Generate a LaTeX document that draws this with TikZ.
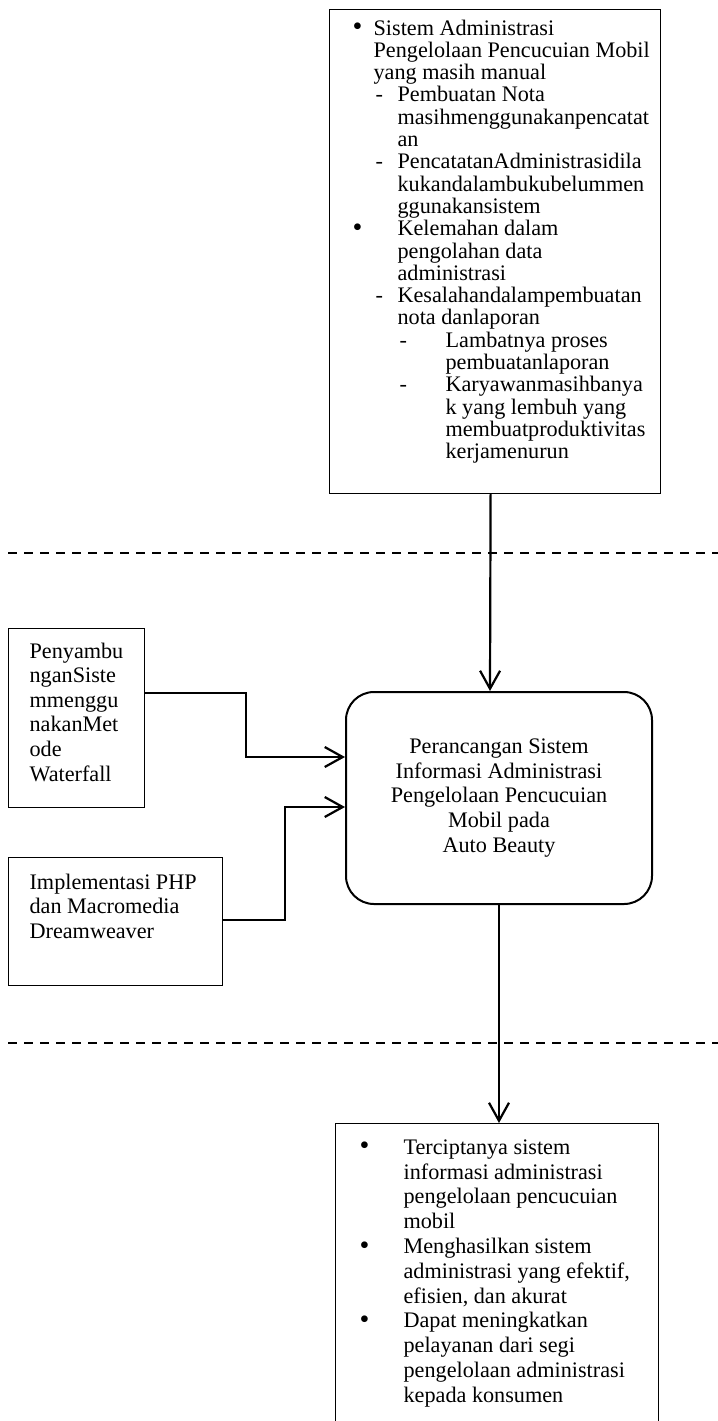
\documentclass[tikz,border=0pt]{standalone}
\usepackage{fontspec}
\setmainfont{Liberation Serif}
\usetikzlibrary{arrows.meta,positioning}

% one text line, indented
\newcommand{\pline}[2]{\hspace*{#1}#2\par}
% one text line with a marker (bullet or dash) in front
\newcommand{\mline}[4]{\hspace*{#1}\makebox[#2][l]{#3}#4\par}
\newcommand{\boxfont}[1]{\fontsize{11.1pt}{#1}\selectfont}
\newcommand{\bul}{{\fontsize{14pt}{14pt}\selectfont\raisebox{-0.3pt}{\textbullet}}}

\tikzset{
    plainbox/.style={draw, line width=0.6pt, inner sep=0pt, anchor=north west},
    roundbox/.style={draw, line width=1pt, rounded corners=14pt,
        minimum width=153pt, minimum height=106pt, align=center,
        font=\boxfont{12.3pt}},
    arr/.style={line width=1.1pt, -{Straight Barb[length=9pt,width=10pt,line width=1.1pt]}},
    divider/.style={line width=0.75pt, dash pattern=on 4.5pt off 3.5pt}
}

\begin{document}
\begin{tikzpicture}[x=0.5pt, y=-0.5pt]
\useasboundingbox (0,0) rectangle (718,1421);
\clip (0,0) rectangle (718,1421);

% === TOP: problems ===
\node[plainbox] (problem) at (329,9) {\parbox[t][242pt][t]{165.5pt}{\boxfont{11.15pt}\vspace*{5pt}%
    \mline{11.5pt}{10.5pt}{\bul}{Sistem Administrasi}
    \pline{22pt}{Pengelolaan Pencucuian Mobil}
    \pline{22pt}{yang masih manual}
    \mline{23pt}{11pt}{-}{Pembuatan Nota}
    \pline{34pt}{masihmenggunakanpencatat}
    \pline{34pt}{an}
    \mline{23pt}{11pt}{-}{PencatatanAdministrasidila}
    \pline{34pt}{kukandalambukubelummen}
    \pline{34pt}{ggunakansistem}
    \mline{11.5pt}{22.5pt}{\bul}{Kelemahan dalam}
    \pline{34pt}{pengolahan data}
    \pline{34pt}{administrasi}
    \mline{23pt}{11pt}{-}{Kesalahandalampembuatan}
    \pline{34pt}{nota danlaporan}
    \mline{35pt}{23pt}{-}{Lambatnya proses}
    \pline{58pt}{pembuatanlaporan}
    \mline{35pt}{23pt}{-}{Karyawanmasihbanya}
    \pline{58pt}{k yang lembuh yang}
    \pline{58pt}{membuatproduktivitas}
    \pline{58pt}{kerjamenurun}}};

\draw[divider] (8,553) -- (718,553);

% === MIDDLE: approach ===
\node[plainbox] (waterfall) at (8,628) {\parbox[t][89.5pt][t]{68pt}{\boxfont{12.3pt}\vspace*{7pt}%
    \pline{10.5pt}{Penyambu}
    \pline{10.5pt}{nganSiste}
    \pline{10.5pt}{mmenggu}
    \pline{10.5pt}{nakanMet}
    \pline{10.5pt}{ode}
    \pline{10.5pt}{Waterfall}}};

\node[plainbox] (tools) at (8,857) {\parbox[t][64pt][t]{107pt}{\boxfont{12.3pt}\vspace*{8pt}%
    \pline{10.5pt}{Implementasi PHP}
    \pline{10.5pt}{dan Macromedia}
    \pline{10.5pt}{Dreamweaver}}};

\node[roundbox] (plan) at (499,798) {Perancangan Sistem\\Informasi Administrasi\\Pengelolaan Pencucuian\\Mobil pada\\Auto Beauty};

\draw[arr] ([xshift=-2.25pt]problem.south) -- ([xshift=-4.5pt]plan.north);
\draw[arr] ([yshift=12.75pt]waterfall.east) -- ++(101,0) |- ([yshift=20.5pt]plan.west);
\draw[arr] ([yshift=1pt]tools.east) -- ++(62,0) |- ([yshift=-4.5pt]plan.west);

\draw[divider] (8,1043) -- (718,1043);

% === BOTTOM: results ===
\node[plainbox] (result) at (335,1123) {\parbox[t][160pt][t]{161.5pt}{\boxfont{12.4pt}\vspace*{8pt}%
    \mline{12pt}{22pt}{\bul}{Terciptanya sistem}
    \pline{34pt}{informasi administrasi}
    \pline{34pt}{pengelolaan pencucuian}
    \pline{34pt}{mobil}
    \mline{12pt}{22pt}{\bul}{Menghasilkan sistem}
    \pline{34pt}{administrasi yang efektif,}
    \pline{34pt}{efisien, dan akurat}
    \mline{12pt}{22pt}{\bul}{Dapat meningkatkan}
    \pline{34pt}{pelayanan dari segi}
    \pline{34pt}{pengelolaan administrasi}
    \pline{34pt}{kepada konsumen}}};

\draw[arr] (plan.south) -- (plan.south |- result.north);

\end{tikzpicture}
\end{document}
